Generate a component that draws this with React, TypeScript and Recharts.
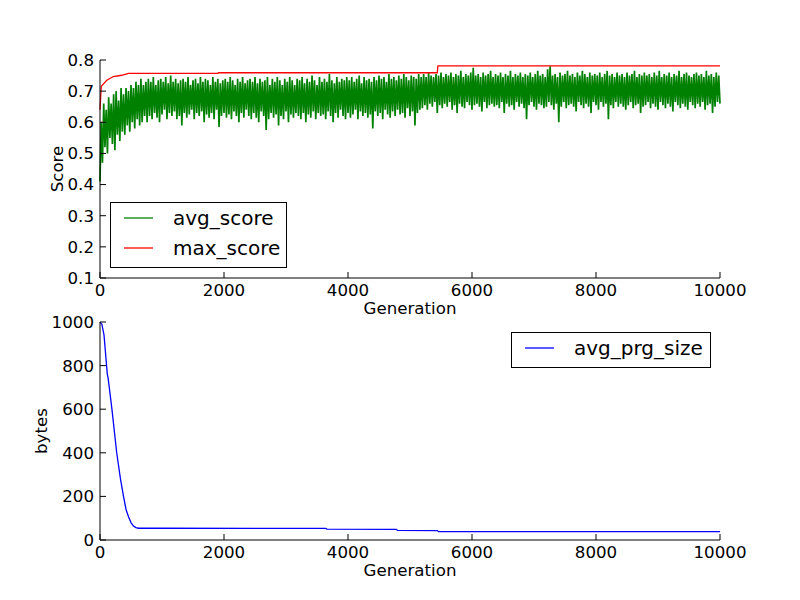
import React from 'react';
import { LineChart, Line, XAxis, YAxis, Legend, Label } from 'recharts';

// ---------------------------------------------------------------------------
// Data
// ---------------------------------------------------------------------------

const GEN_TICKS = [0, 2000, 4000, 6000, 8000, 10000];
const SCORE_TICKS = [0.1, 0.2, 0.3, 0.4, 0.5, 0.6, 0.7, 0.8];
const BYTES_TICKS = [0, 200, 400, 600, 800, 1000];

/** avg_score sampled every 20 generations (one row = 400 generations) */
const AVG_SCORE_STEP = 20;
const AVG_SCORE = [
  0.41, 0.60, 0.47, 0.66, 0.52, 0.64, 0.50, 0.68, 0.55, 0.66, 0.53, 0.69, 0.51, 0.70, 0.56, 0.67, 0.54, 0.71, 0.57, 0.69,
  0.56, 0.71, 0.59, 0.70, 0.57, 0.72, 0.60, 0.71, 0.58, 0.73, 0.61, 0.72, 0.59, 0.74, 0.60, 0.72, 0.62, 0.73, 0.60, 0.74,
  0.62, 0.73, 0.61, 0.745, 0.63, 0.72, 0.615, 0.735, 0.60, 0.74, 0.625, 0.73, 0.64, 0.745, 0.61, 0.725, 0.63, 0.75, 0.62, 0.73,
  0.635, 0.74, 0.61, 0.725, 0.62, 0.735, 0.59, 0.74, 0.63, 0.73, 0.615, 0.745, 0.625, 0.72, 0.64, 0.735, 0.61, 0.74, 0.63, 0.725,
  0.62, 0.745, 0.635, 0.73, 0.60, 0.74, 0.625, 0.735, 0.615, 0.72, 0.63, 0.745, 0.61, 0.73, 0.64, 0.74, 0.585, 0.725, 0.62, 0.735,
  0.63, 0.74, 0.615, 0.73, 0.625, 0.745, 0.61, 0.735, 0.635, 0.72, 0.62, 0.74, 0.60, 0.73, 0.63, 0.745, 0.615, 0.725, 0.64, 0.735,
  0.62, 0.74, 0.61, 0.73, 0.63, 0.745, 0.615, 0.725, 0.60, 0.74, 0.635, 0.73, 0.62, 0.735, 0.575, 0.745, 0.61, 0.72, 0.63, 0.74,
  0.615, 0.73, 0.625, 0.745, 0.59, 0.735, 0.62, 0.72, 0.61, 0.74, 0.635, 0.73, 0.60, 0.745, 0.625, 0.735, 0.615, 0.72, 0.63, 0.74,
  0.62, 0.735, 0.61, 0.745, 0.63, 0.725, 0.60, 0.74, 0.625, 0.73, 0.615, 0.75, 0.635, 0.735, 0.61, 0.72, 0.63, 0.745, 0.62, 0.73,
  0.625, 0.74, 0.61, 0.73, 0.635, 0.755, 0.62, 0.735, 0.60, 0.725, 0.63, 0.745, 0.615, 0.73, 0.64, 0.74, 0.62, 0.735, 0.61, 0.745,
  0.63, 0.735, 0.615, 0.745, 0.625, 0.73, 0.64, 0.74, 0.61, 0.75, 0.635, 0.725, 0.62, 0.745, 0.63, 0.735, 0.615, 0.74, 0.625, 0.73,
  0.58, 0.745, 0.635, 0.735, 0.62, 0.75, 0.63, 0.74, 0.61, 0.745, 0.64, 0.73, 0.625, 0.755, 0.615, 0.74, 0.635, 0.745, 0.62, 0.735,
  0.64, 0.75, 0.625, 0.74, 0.63, 0.755, 0.615, 0.745, 0.645, 0.735, 0.62, 0.75, 0.635, 0.745, 0.59, 0.74, 0.63, 0.755, 0.64, 0.745,
  0.645, 0.755, 0.655, 0.745, 0.64, 0.76, 0.66, 0.75, 0.65, 0.745, 0.665, 0.755, 0.63, 0.75, 0.655, 0.76, 0.645, 0.745, 0.66, 0.755,
  0.65, 0.75, 0.665, 0.76, 0.64, 0.745, 0.655, 0.755, 0.63, 0.75, 0.66, 0.765, 0.65, 0.745, 0.645, 0.755, 0.665, 0.75, 0.655, 0.76,
  0.64, 0.775, 0.655, 0.75, 0.66, 0.755, 0.65, 0.745, 0.635, 0.76, 0.665, 0.75, 0.645, 0.755, 0.655, 0.765, 0.66, 0.745, 0.65, 0.755,
  0.655, 0.75, 0.645, 0.76, 0.665, 0.745, 0.63, 0.755, 0.66, 0.75, 0.65, 0.765, 0.655, 0.745, 0.64, 0.755, 0.665, 0.75, 0.65, 0.76,
  0.66, 0.745, 0.645, 0.755, 0.61, 0.75, 0.655, 0.76, 0.665, 0.745, 0.65, 0.755, 0.64, 0.765, 0.66, 0.75, 0.655, 0.755, 0.645, 0.745,
  0.65, 0.77, 0.665, 0.78, 0.655, 0.75, 0.64, 0.755, 0.66, 0.745, 0.60, 0.76, 0.65, 0.75, 0.665, 0.755, 0.645, 0.765, 0.655, 0.75,
  0.66, 0.755, 0.65, 0.745, 0.635, 0.76, 0.665, 0.75, 0.655, 0.765, 0.645, 0.755, 0.66, 0.745, 0.65, 0.76, 0.63, 0.75, 0.665, 0.755,
  0.655, 0.75, 0.64, 0.76, 0.665, 0.745, 0.65, 0.755, 0.66, 0.765, 0.61, 0.75, 0.655, 0.755, 0.645, 0.745, 0.665, 0.76, 0.65, 0.75,
  0.66, 0.755, 0.65, 0.745, 0.64, 0.76, 0.655, 0.75, 0.665, 0.755, 0.645, 0.765, 0.655, 0.745, 0.66, 0.755, 0.63, 0.75, 0.65, 0.76,
  0.655, 0.75, 0.665, 0.755, 0.645, 0.745, 0.66, 0.76, 0.65, 0.75, 0.64, 0.765, 0.665, 0.745, 0.655, 0.755, 0.645, 0.75, 0.66, 0.76,
  0.65, 0.745, 0.635, 0.755, 0.665, 0.75, 0.655, 0.765, 0.645, 0.745, 0.66, 0.755, 0.65, 0.76, 0.64, 0.75, 0.665, 0.745, 0.655, 0.755,
  0.645, 0.76, 0.66, 0.75, 0.65, 0.755, 0.665, 0.745, 0.64, 0.765, 0.655, 0.75, 0.66, 0.755, 0.63, 0.745, 0.65, 0.76, 0.665, 0.75,
  0.66,
];

const MAX_SCORE_GEN = [0, 20, 30, 110, 215, 350, 460, 1900, 1910, 5440, 5450, 10000];
const MAX_SCORE = [0.64, 0.715, 0.718, 0.735, 0.747, 0.751, 0.757, 0.757, 0.759, 0.759, 0.781, 0.781];

const PRG_SIZE_GEN = [
  0, 30, 65, 100, 118, 130, 190, 270, 330, 380, 420, 460, 500,
  540, 580, 620, 1000, 3640, 3660, 4780, 4800, 5440, 5460, 10000,
];
const PRG_SIZE = [
  1000, 990, 940, 820, 760, 745, 606, 399, 280, 199, 140, 107, 80,
  64, 57, 54, 54, 53, 50, 49, 44, 43, 38, 38,
];

// ---------------------------------------------------------------------------
// Styling
// ---------------------------------------------------------------------------

const FONT = 'DejaVu Sans';
const FONT_SIZE = 16.67;
const TICK_STYLE = { fill: '#000', fontSize: FONT_SIZE, fontFamily: FONT };
const BLACK = { stroke: '#000' };

// ---------------------------------------------------------------------------
// Helpers
// ---------------------------------------------------------------------------

interface LegendItem {
  value: string;
  color: string;
}

function BoxLegend({ payload, width }: { payload?: LegendItem[]; width: number }) {
  return (
    <div
      style={{
        width,
        boxSizing: 'border-box',
        border: '1px solid #000',
        background: '#fff',
        paddingBottom: 4,
      }}
    >
      {(payload ?? []).map((item) => (
        <div key={item.value} style={{ display: 'flex', alignItems: 'center', height: 30 }}>
          <svg width={29} height={2} style={{ marginLeft: 13, marginRight: 20, display: 'block' }}>
            <line x1={0} x2={29} y1={1} y2={1} stroke={item.color} strokeWidth={1.3} />
          </svg>
          <span style={{ fontSize: 20, lineHeight: 'normal', fontFamily: FONT, color: '#000' }}>
            {item.value}
          </span>
        </div>
      ))}
    </div>
  );
}

/** Vertical axis title, baseline placed at a given x */
const rotatedTitle = (text: string, baselineX: number, fallbackY: number) => (props: any) => {
  const vb = props.viewBox;
  const cy = vb && vb.height ? vb.y + vb.height / 2 : fallbackY;
  return (
    <text
      x={baselineX}
      y={cy}
      transform={`rotate(-90 ${baselineX} ${cy})`}
      textAnchor="middle"
      fontSize={FONT_SIZE}
      fontFamily={FONT}
      fill="#000"
    >
      {text}
    </text>
  );
};

// ---------------------------------------------------------------------------
// Component
// ---------------------------------------------------------------------------

export default function App() {
  const avgData = AVG_SCORE.map((v, i) => ({ gen: i * AVG_SCORE_STEP, avg_score: v }));
  const maxData = MAX_SCORE_GEN.map((g, i) => ({ gen: g, max_score: MAX_SCORE[i] }));
  const prgData = PRG_SIZE_GEN.map((g, i) => ({ gen: g, avg_prg_size: PRG_SIZE[i] }));

  return (
    <div
      style={{
        position: 'absolute',
        left: 0,
        top: 0,
        width: 800,
        height: 600,
        background: '#fff',
        fontFamily: FONT,
      }}
    >
      {/* Score panel */}
      <div style={{ position: 'absolute', left: 0, top: 0 }}>
        <LineChart width={800} height={320} margin={{ top: 60, right: 80, bottom: 0, left: 0 }}>
          <XAxis
            dataKey="gen"
            type="number"
            domain={[0, 10000]}
            ticks={GEN_TICKS}
            interval={0}
            height={42}
            tickSize={-6}
            tickMargin={12}
            tick={TICK_STYLE}
            axisLine={BLACK}
            tickLine={BLACK}
          >
            <Label value="Generation" position="insideBottom" offset={6} fill="#000" fontSize={FONT_SIZE} fontFamily={FONT} />
          </XAxis>
          <XAxis
            xAxisId="top"
            orientation="top"
            dataKey="gen"
            type="number"
            domain={[0, 10000]}
            ticks={GEN_TICKS}
            interval={0}
            height={0}
            tickSize={-6}
            tick={false}
            axisLine={BLACK}
            tickLine={BLACK}
          />
          <YAxis
            type="number"
            domain={[0.1, 0.8]}
            ticks={SCORE_TICKS}
            interval={0}
            width={100}
            tickSize={-6}
            tickMargin={12}
            tick={TICK_STYLE}
            tickFormatter={(v: number) => v.toFixed(1)}
            axisLine={BLACK}
            tickLine={BLACK}
          >
            <Label content={rotatedTitle('Score', 62.5, 169)} />
          </YAxis>
          <YAxis
            yAxisId="right"
            orientation="right"
            type="number"
            domain={[0.1, 0.8]}
            ticks={SCORE_TICKS}
            interval={0}
            width={0}
            tickSize={-6}
            tick={false}
            axisLine={BLACK}
            tickLine={BLACK}
          />
          <Legend
            layout="horizontal"
            verticalAlign="middle"
            align="center"
            wrapperStyle={{ left: 110, top: 202, width: 177 }}
            content={(p: any) => <BoxLegend payload={p.payload} width={177} />}
          />
          <Line
            data={avgData}
            dataKey="avg_score"
            name="avg_score"
            type="linear"
            stroke="#008000"
            strokeWidth={1.7}
            dot={false}
            isAnimationActive={false}
          />
          <Line
            data={maxData}
            dataKey="max_score"
            name="max_score"
            type="linear"
            stroke="#ff0000"
            strokeWidth={1.3}
            dot={false}
            isAnimationActive={false}
          />
        </LineChart>
      </div>

      {/* Program size panel */}
      <div style={{ position: 'absolute', left: 0, top: 300 }}>
        <LineChart width={800} height={300} margin={{ top: 22, right: 80, bottom: 0, left: 0 }}>
          <XAxis
            dataKey="gen"
            type="number"
            domain={[0, 10000]}
            ticks={GEN_TICKS}
            interval={0}
            height={60}
            tickSize={-6}
            tickMargin={12}
            tick={TICK_STYLE}
            axisLine={BLACK}
            tickLine={BLACK}
          >
            <Label value="Generation" position="insideBottom" offset={24} fill="#000" fontSize={FONT_SIZE} fontFamily={FONT} />
          </XAxis>
          <XAxis
            xAxisId="top"
            orientation="top"
            dataKey="gen"
            type="number"
            domain={[0, 10000]}
            ticks={GEN_TICKS}
            interval={0}
            height={0}
            tickSize={-6}
            tick={false}
            axisLine={BLACK}
            tickLine={BLACK}
          />
          <YAxis
            type="number"
            domain={[0, 1000]}
            ticks={BYTES_TICKS}
            interval={0}
            width={100}
            tickSize={-6}
            tickMargin={12}
            tick={TICK_STYLE}
            axisLine={BLACK}
            tickLine={BLACK}
          >
            <Label content={rotatedTitle('bytes', 46.5, 131)} />
          </YAxis>
          <YAxis
            yAxisId="right"
            orientation="right"
            type="number"
            domain={[0, 1000]}
            ticks={BYTES_TICKS}
            interval={0}
            width={0}
            tickSize={-6}
            tick={false}
            axisLine={BLACK}
            tickLine={BLACK}
          />
          <Legend
            layout="horizontal"
            verticalAlign="middle"
            align="center"
            wrapperStyle={{ left: 511, top: 32, width: 200 }}
            content={(p: any) => <BoxLegend payload={p.payload} width={200} />}
          />
          <Line
            data={prgData}
            dataKey="avg_prg_size"
            name="avg_prg_size"
            type="linear"
            stroke="#0000ff"
            strokeWidth={1.3}
            dot={false}
            isAnimationActive={false}
          />
        </LineChart>
      </div>
    </div>
  );
}
